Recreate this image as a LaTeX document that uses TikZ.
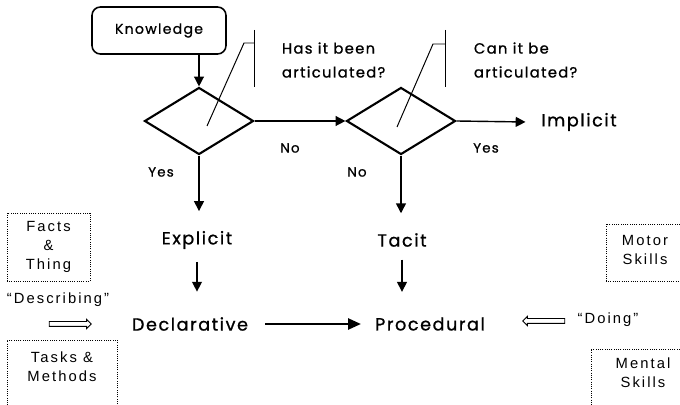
\documentclass[tikz,border=0pt]{standalone}
\usepackage{fontspec}
\setmainfont{Poppins}[LetterSpace=9, FakeBold=1]
\newfontfamily\sidefont{Liberation Sans}[LetterSpace=14]
\usetikzlibrary{arrows.meta,shapes.geometric,shapes.arrows}

\begin{document}
\begin{tikzpicture}[x=0.025cm, y=-0.025cm,
		decision/.style={diamond, draw, line width=1.5pt, minimum width=2.725cm, minimum height=1.675cm, inner sep=0pt},
		flow/.style={-{Triangle[length=7pt, width=7pt]}, line width=1pt},
		callout/.style={line width=0.7pt},
		bigLabel/.style={font=\fontsize{12.5}{14}\selectfont, inner sep=1pt},
		smallLabel/.style={font=\fontsize{9.5}{11}\selectfont},
		question/.style={font=\fontsize{10.5}{17}\selectfont, align=left, anchor=west},
		sideBox/.style={draw, densely dotted, line width=0.6pt, inner sep=0pt},
		sideText/.style={font=\sidefont\fontsize{10.5}{13.5}\selectfont, align=center},
		hollowArrow/.style={single arrow, draw, line width=0.6pt, minimum height=1.05cm, inner xsep=0pt, inner ysep=0.05cm, single arrow head extend=0.055cm, single arrow head indent=0pt}]
		
		\path[use as bounding box, clip] (0,0) rectangle (680,405);
		
		% Start
		\node (knowledge) at (159,30.5) [draw, rounded corners=6pt, line width=1.1pt, minimum width=3.35cm, minimum height=1.175cm, font=\fontsize{10}{12}\selectfont]{Knowledge};
		
		% Decisions
		\node (decisionArticulated) at (199,121) [decision]{};
		\node (decisionCanArticulate) at (401,121) [decision]{};
		
		% Questions with their callouts
		\node (questionArticulated) at (277,60) [question]{Has it been\\articulated?};
		\coordinate (tipArticulated) at (207,126);
		\coordinate (kneeArticulated) at (244,43);
		\coordinate (barTopArticulated) at (254,30);
		\coordinate (barBottomArticulated) at (254,87);
		\draw[callout] (tipArticulated) -- (kneeArticulated) -- (kneeArticulated -| barTopArticulated);
		\draw[callout] (barTopArticulated) -- (barBottomArticulated);
		
		\node (questionCanArticulate) at (469,60) [question]{Can it be\\articulated?};
		\coordinate (tipCanArticulate) at (397,127);
		\coordinate (kneeCanArticulate) at (433,44);
		\coordinate (barTopCanArticulate) at (445,30);
		\coordinate (barBottomCanArticulate) at (445,87);
		\draw[callout] (tipCanArticulate) -- (kneeCanArticulate) -- (kneeCanArticulate -| barTopCanArticulate);
		\draw[callout] (barTopCanArticulate) -- (barBottomCanArticulate);
		
		% Outcomes
		\node (implicit) at (579,122) [bigLabel]{Implicit};
		\node (explicit) at (197,240) [bigLabel]{Explicit};
		\node (tacit) at (402,240) [bigLabel]{Tacit};
		\node (declarative) at (190,324) [bigLabel]{Declarative};
		\node (procedural) at (430,324) [bigLabel]{Procedural};
		
		% Branch labels
		\node (yesArticulated) at (161,172) [smallLabel]{Yes};
		\node (noArticulated) at (290,148) [smallLabel]{No};
		\node (noCanArticulate) at (357,172) [smallLabel]{No};
		\node (yesCanArticulate) at (486,148) [smallLabel]{Yes};
		
		% Linking the flow
		\draw[flow] (knowledge.south -| decisionArticulated.north) -- (decisionArticulated.north);
		\draw[flow] (decisionArticulated.east) -- (decisionCanArticulate.west);
		\draw[flow] (decisionCanArticulate.east) -- ([xshift=-10pt]implicit.west);
		\draw[flow] (decisionArticulated.south) -- ([yshift=13pt]explicit.north -| decisionArticulated.south);
		\draw[flow] (decisionCanArticulate.south) -- ([yshift=13pt]tacit.north -| decisionCanArticulate.south);
		\draw[flow] ([yshift=-8pt]explicit.south) -- ([yshift=17pt]declarative.north -| explicit.south);
		\draw[flow] ([yshift=-8pt]tacit.south) -- ([yshift=17pt]procedural.north -| tacit.south);
		\draw[-{Triangle[length=9pt, width=8pt]}, line width=1pt] ([xshift=11pt]declarative.east) -- ([xshift=-9pt]procedural.west);
		
		% Declarative side
		\node (factsBox) at (48.5,247) [sideBox, minimum width=2.075cm, minimum height=1.7cm]{};
		\node (facts) at (factsBox) [sideText]{Facts\\\&\\Thing};
		\node (describing) at (58,300) [sideText]{“Describing”};
		\node (describingArrow) at (69,324) [hollowArrow]{};
		\node (tasksBox) at (62,380) [sideBox, minimum width=2.75cm, minimum height=2cm]{};
		\node (tasks) at (62,367) [sideText]{Tasks \&\\Methods};
		
		% Procedural side
		\node (motorBox) at (653,252.5) [sideBox, minimum width=2.35cm, minimum height=1.425cm]{};
		\node (motor) at (645,250) [sideText]{Motor\\Skills};
		\node (doing) at (608,320) [sideText]{“Doing”};
		\node (doingArrow) at (545,321) [hollowArrow, shape border rotate=180]{};
		\node (mentalBox) at (645.5,384.5) [sideBox, minimum width=2.725cm, minimum height=1.775cm]{};
		\node (mental) at (643,373) [sideText]{Mental\\Skills};
		
		\end{tikzpicture}
\end{document}
